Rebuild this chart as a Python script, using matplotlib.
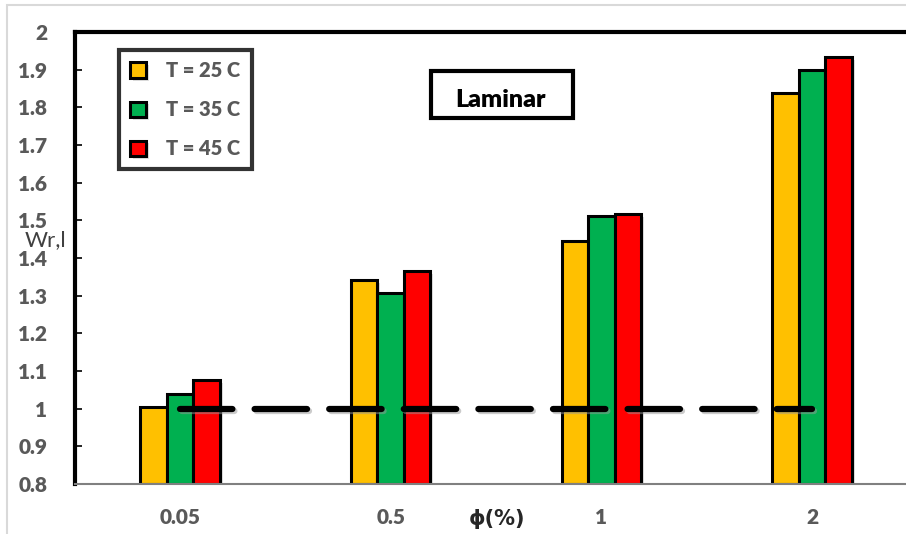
import numpy as np
import matplotlib.pyplot as plt
import matplotlib.patheffects as pe
from matplotlib.patches import Rectangle

plt.rcParams['font.family'] = ['Lato', 'DejaVu Sans']

# data
groups = ['0.05', '0.5', '1', '2']
labels = ['T = 25 C', 'T = 35 C', 'T = 45 C']
t25 = [1.005, 1.342, 1.445, 1.838]
t35 = [1.040, 1.307, 1.511, 1.899]
t45 = [1.075, 1.365, 1.517, 1.933]
colors = ['#FFC000', '#00B050', '#FF0000']
ref_y = 1.0

fig = plt.figure(figsize=(9.06, 5.34), dpi=100)
ax = fig.add_axes([75/906, 1-484/534, 1-75/906, (484-32)/534])

# outer light border
fig.patches.append(Rectangle((7/906, -0.05), 1.2, 1-5/534+0.05,
                             transform=fig.transFigure, fill=False,
                             edgecolor='#d9d9d9', lw=1.5))

x = np.arange(len(groups))
w = 0.126
shadow = [pe.SimplePatchShadow(offset=(2, -2), shadow_rgbFace='#cccccc', alpha=0.6), pe.Normal()]
for i, (vals, c, lab) in enumerate(zip([t25, t35, t45], colors, labels)):
    bars = ax.bar(x + (i-1)*w, np.array(vals) - 0.8, w, bottom=0.8, color=c,
                  edgecolor='black', lw=2.2, label=lab, zorder=2)
    for b in bars:
        b.set_path_effects(shadow)

ax.plot([x[0], x[-1]], [ref_y, ref_y], color='black', lw=4.5,
        dashes=(52/6.2, 22/6.2), solid_capstyle='round', dash_capstyle='round',
        zorder=3,
        path_effects=[pe.SimpleLineShadow(offset=(1.5, -2), shadow_color='#999999', alpha=0.5), pe.Normal()])

ax.set_xlim(-0.498, 3.446)
ax.set_ylim(0.8, 2.0)
ax.set_yticks(np.arange(0.8, 2.001, 0.1))
ax.set_yticklabels(['0.8', '0.9', '1', '1.1', '1.2', '1.3', '1.4', '1.5',
                    '1.6', '1.7', '1.8', '1.9', '2'])
ax.set_xticks(x)
ax.set_xticklabels(groups)
for t in ax.get_yticklabels() + ax.get_xticklabels():
    t.set_fontweight('heavy')
    t.set_color('#595959')
    t.set_fontsize(15)
ax.tick_params(axis='y', direction='in', length=5, width=1.2, pad=20)
ax.tick_params(axis='x', length=0, pad=17)

for s in ['left', 'top']:
    ax.spines[s].set_linewidth(3)
    ax.spines[s].set_color('black')
ax.spines['right'].set_visible(False)
ax.spines['bottom'].set_color('#808080')
ax.spines['bottom'].set_linewidth(1.5)

fig.text(25/906, 1-240/534, 'Wr,l', fontsize=16, color='#404040', va='center', ha='left')
fig.text(497/906, 1-519/534, 'ϕ(%)', fontsize=15, fontweight='bold', color='#262626',
         va='center', ha='center', family=['DejaVu Sans'])

leg = ax.legend(loc='upper left', bbox_to_anchor=((119-75)/831, 1-(50-32)/452),
                frameon=True, fancybox=False, fontsize=14.5, handlelength=0.8,
                handleheight=0.8, handletextpad=1.0, labelspacing=1.0,
                borderpad=0.55, borderaxespad=0)
leg.get_frame().set_edgecolor('black')
leg.get_frame().set_linewidth(3)
for t in leg.get_texts():
    t.set_fontweight('heavy')
    t.set_color('#595959')

# Laminar label box
fig.patches.append(Rectangle((431/906, 1-118/534), 142/906, 47/534,
                             transform=fig.transFigure, fill=True, fc='white',
                             edgecolor='black', lw=3, zorder=5))
fig.text(500/906, 1-100/534, 'Laminar', fontsize=18, fontweight='heavy',
         ha='center', va='center', zorder=6)

fig.savefig('out.png', dpi=100)
